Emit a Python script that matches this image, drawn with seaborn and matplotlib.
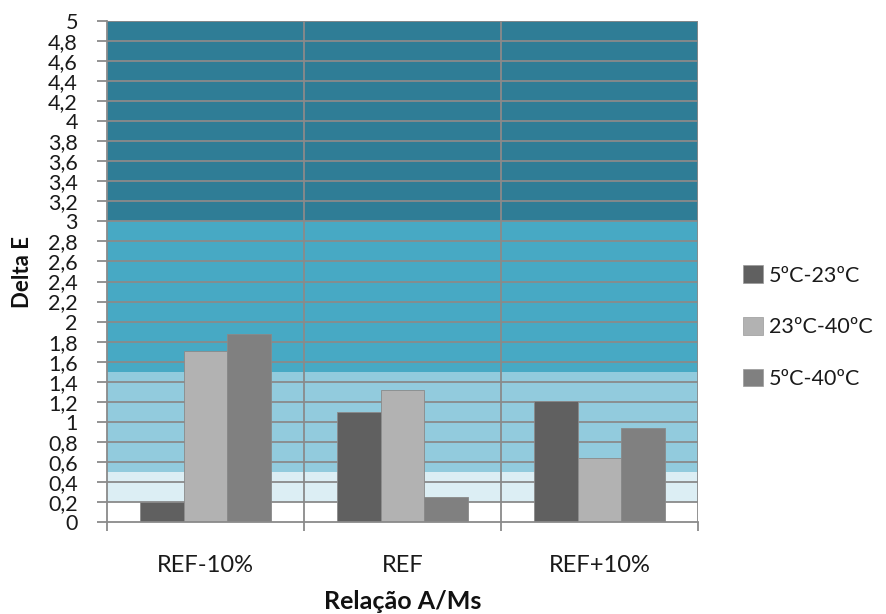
import matplotlib
matplotlib.use("Agg")
import matplotlib.pyplot as plt
import numpy as np
import pandas as pd
import seaborn as sns
from matplotlib.patches import Patch
from matplotlib.ticker import FixedLocator, FuncFormatter

categories = ["REF-10%", "REF", "REF+10%"]
series = ["5ºC-23ºC", "23ºC-40ºC", "5ºC-40ºC"]
v_5_23 = [0.20, 1.10, 1.21]
v_23_40 = [1.71, 1.32, 0.64]
v_5_40 = [1.88, 0.25, 0.94]
colors = ["#606060", "#b2b2b2", "#808080"]

# perception bands of Delta E (lower, upper, colour)
band_edges = [0.0, 0.2, 0.5, 1.5, 3.0, 5.0]
band_colors = ["#ffffff", "#dceef4", "#92cbdd", "#47a9c4", "#2f7d96"]

df = pd.DataFrame({
    "cat": np.repeat(categories, 3),
    "serie": series * 3,
    "val": [v for trio in zip(v_5_23, v_23_40, v_5_40) for v in trio],
})

sns.set_style("white")
plt.rcParams["font.family"] = ["Lato", "DejaVu Sans"]

fig = plt.figure(figsize=(8.87, 6.14), dpi=100)
ax = fig.add_axes([107 / 887, 1 - 522 / 614, (698 - 107) / 887, (522 - 21) / 614])

for lo, hi, c in zip(band_edges[:-1], band_edges[1:], band_colors):
    ax.axhspan(lo, hi, color=c, zorder=0, lw=0)

for y in np.arange(0.2, 5.01, 0.2):
    ax.axhline(y, color="#8a8a8a", lw=1.3, zorder=1)
for x in [0.5, 1.5, 2.5]:
    ax.axvline(x, color="#8a8a8a", lw=1.3, zorder=1)

sns.barplot(data=df, x="cat", y="val", hue="serie", order=categories,
            hue_order=series, palette=colors, width=0.66, saturation=1,
            edgecolor="#8a8a8a", linewidth=0.6, ax=ax, zorder=2, legend=False)

ax.set_xlim(-0.5, 2.5)
ax.set_ylim(0, 5)
ax.yaxis.set_major_locator(FixedLocator(np.round(np.arange(0, 5.01, 0.2), 1)))
ax.yaxis.set_major_formatter(FuncFormatter(lambda v, p: f"{v:g}".replace(".", ",")))
ax.xaxis.set_major_locator(FixedLocator([0, 1, 2]))
ax.xaxis.set_minor_locator(FixedLocator([-0.5, 0.5, 1.5, 2.5]))
ax.set_xticklabels(categories)

ax.tick_params(axis="y", which="major", left=True, length=7, width=1.3,
               color="#8a8a8a", labelsize=15.5, pad=14, labelcolor="#1a1a1a")
ax.tick_params(axis="x", which="major", bottom=False, labelsize=17, pad=20,
               labelcolor="#1a1a1a")
ax.tick_params(axis="x", which="minor", bottom=True, length=6.5, width=1.3,
               color="#8a8a8a")

for s in ["top", "right"]:
    ax.spines[s].set_visible(False)
for s in ["left", "bottom"]:
    ax.spines[s].set_color("#8a8a8a")
    ax.spines[s].set_linewidth(1.3)

ax.set_ylabel("Delta E", fontsize=16, fontweight="bold", color="#111111")
ax.yaxis.set_label_coords((33 - 107) / 591, 0.5)
ax.set_xlabel("Relação A/Ms", fontsize=18, fontweight="bold", labelpad=10, color="#111111")

handles = [Patch(facecolor=c, edgecolor="#999999", lw=0.5) for c in colors]
fig.legend(handles, series, loc="upper left", bbox_to_anchor=(724 / 887, 1 - 246 / 614),
           frameon=False, fontsize=15.5, handlelength=0.9, handleheight=0.9,
           handletextpad=0.3, labelspacing=1.45, labelcolor="#1a1a1a")

fig.savefig("out.png", dpi=100)
